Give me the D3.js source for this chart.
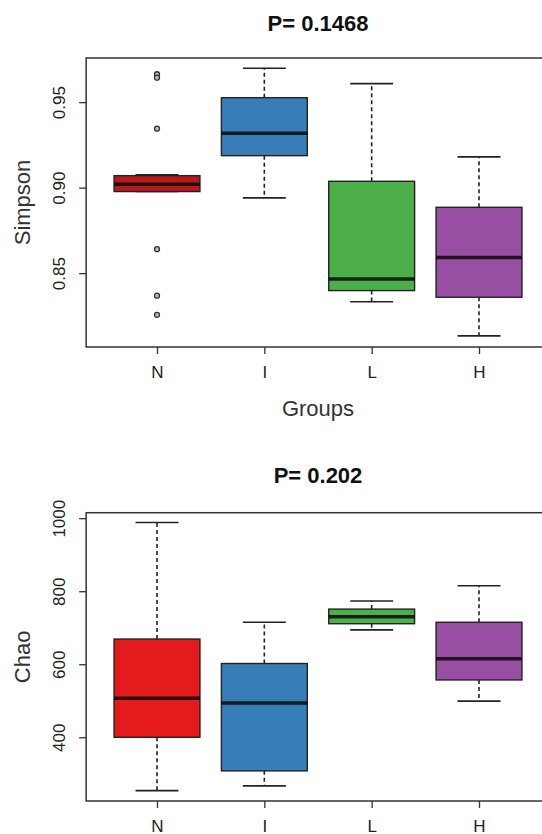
<!DOCTYPE html>
<html>
<head>
<meta charset="utf-8">
<script src="https://cdn.jsdelivr.net/npm/d3@7"></script>
<style>
  body { margin: 0; background: #fff; }
  svg { display: block; font-family: "Liberation Sans", Arial, sans-serif; }
</style>
</head>
<body>
<svg id="canvas" width="542" height="834"></svg>
<script>
var groups = ['N', 'I', 'L', 'H'];
var colors = ['#e41a1c', '#377eb8', '#4daf4a', '#984ea3'];

// five-number summaries: [lower whisker, Q1, median, Q3, upper whisker]
var simpsonStats = [
  [0.8977, 0.8977, 0.9020, 0.9070, 0.9075],
  [0.8940, 0.9187, 0.9318, 0.9526, 0.9698],
  [0.8333, 0.8398, 0.8466, 0.9037, 0.9608],
  [0.8133, 0.8359, 0.8591, 0.8885, 0.9180]
];
var simpsonOutliers = [
  [0.9663, 0.9643, 0.9345, 0.8640, 0.8368, 0.8256],
  [], [], []
];
var simpsonTicks = [0.85, 0.90, 0.95];

var chaoStats = [
  [254, 400, 507, 669, 988],
  [267, 308, 494, 602, 715],
  [694, 711, 730, 751, 773],
  [499, 557, 615, 715, 815]
];
var chaoOutliers = [[], [], [], []];
var chaoTicks = [400, 600, 800, 1000];

var canvas = d3.select('#canvas');

var x = d3.scaleLinear().domain([1, 4]).range([157, 479]);
var boxW = (x(2) - x(1)) * 0.8;

drawPanel({
  title: 'P= 0.1468', titleY: 23,
  top: 58, bottom: 347,
  domain: [0.8068, 0.9758],
  ticks: simpsonTicks, fmt: d3.format('.2f'),
  stats: simpsonStats, outliers: simpsonOutliers,
  ylabel: 'Simpson', xlabel: 'Groups',
  boxColors: ['#b8191d', '#377eb8', '#4daf4a', '#984ea3']
});

drawPanel({
  title: 'P= 0.202', titleY: 475,
  top: 512.7, bottom: 801,
  domain: [225.5, 1015],
  ticks: chaoTicks, fmt: d3.format('d'),
  stats: chaoStats, outliers: chaoOutliers,
  ylabel: 'Chao', xlabel: null,
  boxColors: colors
});

function drawPanel(p) {
  var y = d3.scaleLinear().domain(p.domain).range([p.bottom, p.top]);
  var g = canvas.append('g');

  // frame (right side runs off the picture)
  g.append('rect')
    .attr('x', x(0.34)).attr('y', p.top)
    .attr('width', x(5) - x(0.34)).attr('height', p.bottom - p.top)
    .attr('fill', 'none').attr('stroke', '#333').attr('stroke-width', 1.5);

  // y axis
  var yAxis = g.append('g')
    .attr('transform', 'translate(' + x(0.34) + ',0)')
    .call(d3.axisLeft(y).tickValues(p.ticks).tickFormat(p.fmt).tickSize(7));
  yAxis.select('.domain').remove();
  yAxis.selectAll('line').attr('stroke', '#333').attr('stroke-width', 1.3);
  yAxis.selectAll('text')
    .attr('x', 0).attr('y', 0).attr('dy', '0.35em')
    .attr('text-anchor', 'middle')
    .attr('font-size', 17).attr('fill', '#222')
    .attr('transform', 'translate(' + (59 - x(0.34)) + ',0) rotate(-90)');

  // x axis
  var xAxis = g.append('g')
    .attr('transform', 'translate(0,' + p.bottom + ')')
    .call(d3.axisBottom(x).tickValues([1, 2, 3, 4])
      .tickFormat(function(d) { return groups[d - 1]; }).tickSize(7).tickPadding(0));
  xAxis.select('.domain').remove();
  xAxis.selectAll('line').attr('stroke', '#333').attr('stroke-width', 1.3);
  xAxis.selectAll('text')
    .attr('y', 25).attr('dy', '0.35em')
    .attr('font-size', 17).attr('fill', '#222');

  // title
  g.append('text')
    .attr('x', 318).attr('y', p.titleY).attr('dy', '0.35em')
    .attr('text-anchor', 'middle').attr('font-weight', 'bold')
    .attr('font-size', 22).attr('fill', '#111')
    .text(p.title);

  // y label
  g.append('text')
    .attr('transform', 'translate(22,' + ((p.top + p.bottom) / 2) + ') rotate(-90)')
    .attr('dy', '0.35em').attr('text-anchor', 'middle')
    .attr('font-size', 22).attr('fill', '#333')
    .text(p.ylabel);

  if (p.xlabel) {
    g.append('text')
      .attr('x', 318).attr('y', p.bottom + 61).attr('dy', '0.35em')
      .attr('text-anchor', 'middle')
      .attr('font-size', 22).attr('fill', '#333')
      .text(p.xlabel);
  }

  var box = g.selectAll('.box').data(p.stats).enter().append('g').attr('class', 'box');

  // whiskers
  box.append('line')
    .attr('x1', function(d, i) { return x(i + 1); })
    .attr('x2', function(d, i) { return x(i + 1); })
    .attr('y1', function(d) { return y(d[3]); })
    .attr('y2', function(d) { return y(d[4]); })
    .attr('stroke', '#222').attr('stroke-width', 1.6).attr('stroke-dasharray', '4,3');
  box.append('line')
    .attr('x1', function(d, i) { return x(i + 1); })
    .attr('x2', function(d, i) { return x(i + 1); })
    .attr('y1', function(d) { return y(d[1]); })
    .attr('y2', function(d) { return y(d[0]); })
    .attr('stroke', '#222').attr('stroke-width', 1.6).attr('stroke-dasharray', '4,3');

  // staples
  [0, 4].forEach(function(k) {
    box.append('line')
      .attr('x1', function(d, i) { return x(i + 1) - boxW / 4; })
      .attr('x2', function(d, i) { return x(i + 1) + boxW / 4; })
      .attr('y1', function(d) { return y(d[k]); })
      .attr('y2', function(d) { return y(d[k]); })
      .attr('stroke', '#222').attr('stroke-width', 1.6);
  });

  // boxes
  box.append('rect')
    .attr('x', function(d, i) { return x(i + 1) - boxW / 2; })
    .attr('y', function(d) { return y(d[3]); })
    .attr('width', boxW)
    .attr('height', function(d) { return y(d[1]) - y(d[3]); })
    .attr('fill', function(d, i) { return p.boxColors[i]; })
    .attr('stroke', '#222').attr('stroke-width', 1.4);

  // medians
  box.append('line')
    .attr('x1', function(d, i) { return x(i + 1) - boxW / 2; })
    .attr('x2', function(d, i) { return x(i + 1) + boxW / 2; })
    .attr('y1', function(d) { return y(d[2]); })
    .attr('y2', function(d) { return y(d[2]); })
    .attr('stroke', '#0a0a0a').attr('stroke-width', 3.5).attr('stroke-opacity', 0.85);

  // outliers
  p.outliers.forEach(function(list, i) {
    g.selectAll('.out' + i).data(list).enter().append('circle')
      .attr('class', 'out' + i)
      .attr('cx', x(i + 1))
      .attr('cy', function(d) { return y(d); })
      .attr('r', 2.5)
      .attr('fill', '#bbb').attr('stroke', '#333').attr('stroke-width', 1.3);
  });
}
</script>
</body>
</html>
